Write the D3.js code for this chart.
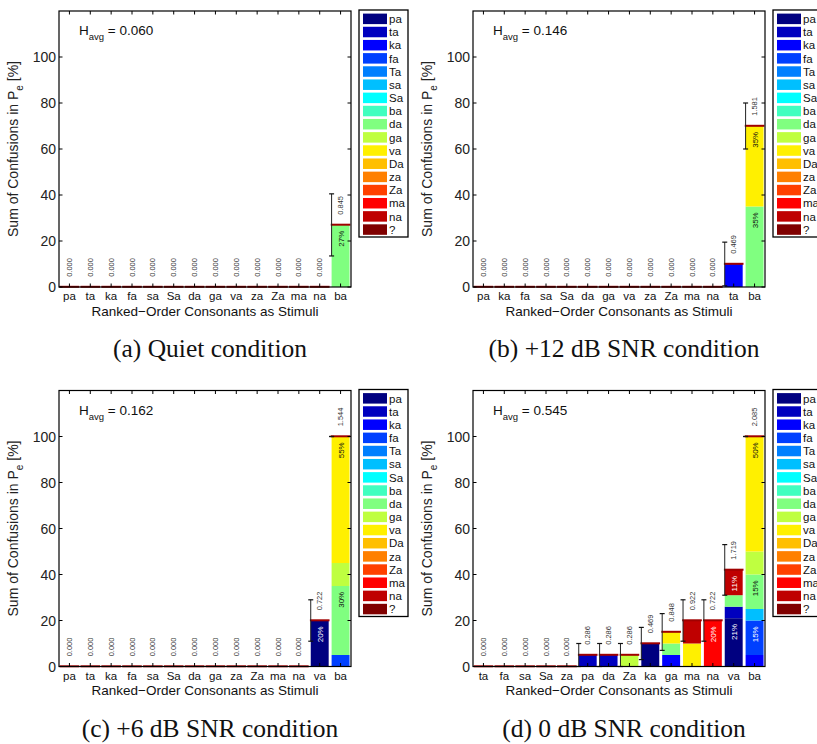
<!DOCTYPE html>
<html>
<head>
<meta charset="utf-8">
<script src="https://cdn.jsdelivr.net/npm/d3@7"></script>
<style>
  body { margin: 0; background: #fff; }
  svg { display: block; }
</style>
</head>
<body>
<svg id="fig" width="817" height="744"></svg>
<script>
// Response categories (legend order, bottom-to-top stacking order) and their jet colours
const responses = ["pa","ta","ka","fa","Ta","sa","Sa","ba","da","ga","va","Da","za","Za","ma","na","?"];
const responseColors = ["#000080","#0000BF","#0000FF","#0040FF","#0080FF","#00BFFF","#00FFFF","#40FFBF",
                        "#80FF80","#BFFF40","#FFF000","#FFBF00","#FF8000","#FF4000","#FF0000","#BF0000","#800000"];
const darkResponses = ["pa","ta","ka","fa","Za","ma","na","?"];

const yTickValues = [0, 20, 40, 60, 80, 100];
const captions = ["(a) Quiet condition", "(b) +12 dB SNR condition", "(c) +6 dB SNR condition", "(d) 0 dB SNR condition"];
const hAvg = [0.060, 0.146, 0.162, 0.545];

// Quiet
const stimuliQuiet = ["pa","ta","ka","fa","sa","Sa","da","ga","va","za","Za","ma","na","ba"];
const confusionsQuiet = [[],[],[],[],[],[],[],[],[],[],[],[],[],[["da",27]]];
const entropyQuiet = [0,0,0,0,0,0,0,0,0,0,0,0,0,0.845];
const spreadQuiet  = [0,0,0,0,0,0,0,0,0,0,0,0,0,13.5];

// +12 dB SNR
const stimuli12 = ["pa","ka","fa","sa","Sa","da","ga","va","za","Za","ma","na","ta","ba"];
const confusions12 = [[],[],[],[],[],[],[],[],[],[],[],[],[["ka",10]],[["da",35],["va",35]]];
const entropy12 = [0,0,0,0,0,0,0,0,0,0,0,0,0.469,1.581];
const spread12  = [0,0,0,0,0,0,0,0,0,0,0,0,9.5,10];

// +6 dB SNR
const stimuli6 = ["pa","ta","ka","fa","sa","Sa","da","ga","za","Za","ma","na","va","ba"];
const confusions6 = [[],[],[],[],[],[],[],[],[],[],[],[],[["pa",20]],[["fa",5],["da",30],["ga",10],["va",55]]];
const entropy6 = [0,0,0,0,0,0,0,0,0,0,0,0,0.722,1.544];
const spread6  = [0,0,0,0,0,0,0,0,0,0,0,0,9,0];

// 0 dB SNR
const stimuli0 = ["ta","fa","sa","Sa","za","pa","da","Za","ka","ga","ma","na","va","ba"];
const confusions0 = [[],[],[],[],[],
  [["ta",5]], [["ta",5]], [["ga",5]], [["pa",10]],
  [["ka",5],["da",5],["va",5]],
  [["va",10],["na",10]],
  [["ma",20]],
  [["pa",21],["ta",5],["da",5],["na",11]],
  [["ka",5],["fa",15],["sa",5],["da",15],["ga",10],["va",50]]];
const entropy0 = [0,0,0,0,0,0.286,0.286,0.286,0.469,0.848,0.922,0.722,1.719,2.085];
const spread0  = [0,0,0,0,0,5,5,5,7,8,9,9,11,0];

const colorOf = d3.scaleOrdinal().domain(responses).range(responseColors);

const svg = d3.select("#fig");
const plotW = 292, plotH = 276;
const sans = "Liberation Sans, Arial, Helvetica, sans-serif";

const panels = [
  { stimuli: stimuliQuiet, conf: confusionsQuiet, ent: entropyQuiet, spread: spreadQuiet, h: hAvg[0], caption: captions[0], left: 59,  top: 11 },
  { stimuli: stimuli12,    conf: confusions12,    ent: entropy12,    spread: spread12,    h: hAvg[1], caption: captions[1], left: 473, top: 11 },
  { stimuli: stimuli6,     conf: confusions6,     ent: entropy6,     spread: spread6,     h: hAvg[2], caption: captions[2], left: 59,  top: 390.5 },
  { stimuli: stimuli0,     conf: confusions0,     ent: entropy0,     spread: spread0,     h: hAvg[3], caption: captions[3], left: 473, top: 390.5 }
];

function drawPanel(p) {
  const g = svg.append("g").attr("transform", `translate(${p.left},${p.top})`);
  const x = d3.scaleBand().domain(p.stimuli).range([0, plotW]).paddingInner(0.14).paddingOuter(0.07);
  const y = d3.scaleLinear().domain([0, 120]).range([plotH, 0]);
  const step = x.step();

  // stacked segments per stimulus
  const bars = p.stimuli.map((s, i) => {
    const segs = p.conf[i].slice().sort((a, b) => responses.indexOf(a[0]) - responses.indexOf(b[0]));
    let cum = 0;
    const parts = segs.map(([r, v]) => { const o = { resp: r, y0: cum, y1: cum + v, v }; cum += v; return o; });
    return { stim: s, parts, total: cum, ent: p.ent[i], spread: p.spread[i] };
  });

  const barG = g.selectAll("g.bar").data(bars).join("g").attr("class", "bar");
  barG.selectAll("rect.seg").data(d => d.parts.map(pt => ({ ...pt, stim: d.stim }))).join("rect")
    .attr("class", "seg")
    .attr("x", d => x(d.stim))
    .attr("width", x.bandwidth())
    .attr("y", d => y(d.y1))
    .attr("height", d => y(d.y0) - y(d.y1))
    .attr("fill", d => colorOf(d.resp));

  // dark red cap on top of each stack
  barG.append("rect")
    .attr("x", d => x(d.stim) + x.bandwidth() / 2 - step * 0.47)
    .attr("width", step * 0.94)
    .attr("y", d => y(d.total) - 1.2)
    .attr("height", 2)
    .attr("fill", "#A00000");

  // percentage labels inside the larger segments
  barG.selectAll("text.pct").data(d => d.parts.filter(pt => pt.v > 10).map(pt => ({ ...pt, stim: d.stim }))).join("text")
    .attr("class", "pct")
    .attr("transform", d => `translate(${x(d.stim) + x.bandwidth() / 2 + 3},${y(d.y1 - 6)}) rotate(-90)`)
    .attr("text-anchor", "middle")
    .attr("font-family", sans).attr("font-size", 8)
    .attr("fill", d => darkResponses.includes(d.resp) ? "#fff" : "#111")
    .text(d => d.v + "%");

  // error bars at the left edge of each non-empty stack
  const eb = barG.filter(d => d.total > 0);
  eb.append("line")
    .attr("x1", d => x(d.stim)).attr("x2", d => x(d.stim))
    .attr("y1", d => y(Math.max(0, d.total - d.spread))).attr("y2", d => y(d.total + d.spread))
    .attr("stroke", "#222").attr("stroke-width", 1);
  [-1, 1].forEach(sign => {
    eb.append("line")
      .attr("x1", d => x(d.stim) - 2.5).attr("x2", d => x(d.stim) + 2.5)
      .attr("y1", d => y(Math.max(0, d.total + sign * d.spread))).attr("y2", d => y(Math.max(0, d.total + sign * d.spread)))
      .attr("stroke", "#111").attr("stroke-width", 1.2);
  });

  // entropy values above each stack
  barG.append("text")
    .attr("transform", d => `translate(${x(d.stim) + x.bandwidth() / 2 + 2.5},${y(d.total + 8.5)}) rotate(-90)`)
    .attr("text-anchor", "middle")
    .attr("font-family", sans).attr("font-size", 7.5)
    .attr("fill", "#333")
    .text(d => d.ent.toFixed(3));

  // frame and ticks
  g.append("rect").attr("width", plotW).attr("height", plotH)
    .attr("fill", "none").attr("stroke", "#000").attr("stroke-width", 1.2);
  const tl = 3.5;
  g.selectAll("line.xtb").data(p.stimuli).join("line")
    .attr("x1", d => x(d) + x.bandwidth() / 2).attr("x2", d => x(d) + x.bandwidth() / 2)
    .attr("y1", plotH).attr("y2", plotH - tl).attr("stroke", "#000");
  g.selectAll("line.xtt").data(p.stimuli).join("line")
    .attr("x1", d => x(d) + x.bandwidth() / 2).attr("x2", d => x(d) + x.bandwidth() / 2)
    .attr("y1", 0).attr("y2", tl).attr("stroke", "#000");
  g.selectAll("line.ytl").data(yTickValues).join("line")
    .attr("x1", 0).attr("x2", tl).attr("y1", d => y(d)).attr("y2", d => y(d)).attr("stroke", "#000");
  g.selectAll("line.ytr").data(yTickValues).join("line")
    .attr("x1", plotW).attr("x2", plotW - tl).attr("y1", d => y(d)).attr("y2", d => y(d)).attr("stroke", "#000");

  g.selectAll("text.ytick").data(yTickValues).join("text")
    .attr("x", -3).attr("y", d => y(d)).attr("dy", "0.36em")
    .attr("text-anchor", "end").attr("font-family", sans).attr("font-size", 14).attr("fill", "#222")
    .text(d => d);
  g.selectAll("text.xtick").data(p.stimuli).join("text")
    .attr("x", d => x(d) + x.bandwidth() / 2).attr("y", plotH + 13)
    .attr("text-anchor", "middle").attr("font-family", sans).attr("font-size", 11.5).attr("fill", "#111")
    .text(d => d);

  g.append("text").attr("x", plotW / 2).attr("y", plotH + 28.5)
    .attr("text-anchor", "middle").attr("font-family", sans).attr("font-size", 13.5).attr("fill", "#111")
    .text("Ranked\u2212Order Consonants as Stimuli");

  const yl = g.append("text")
    .attr("transform", `translate(${-41},${plotH / 2}) rotate(-90)`)
    .attr("text-anchor", "middle").attr("font-family", sans).attr("font-size", 14).attr("fill", "#222");
  yl.append("tspan").text("Sum of Confusions in P");
  yl.append("tspan").attr("font-size", 10).attr("dy", 5).text("e");
  yl.append("tspan").attr("dy", -5).text(" [%]");

  const ht = g.append("text").attr("x", 20).attr("y", 24)
    .attr("font-family", sans).attr("font-size", 13.5).attr("fill", "#111");
  ht.append("tspan").text("H");
  ht.append("tspan").attr("font-size", 9.5).attr("dy", 5).text("avg");
  ht.append("tspan").attr("dy", -5).text(" = " + p.h.toFixed(3));

  // legend
  const lg = g.append("g").attr("transform", `translate(${plotW + 8},${-1})`);
  lg.append("rect").attr("width", 49).attr("height", 227)
    .attr("fill", "#fff").attr("stroke", "#000").attr("stroke-width", 1.3);
  const li = lg.selectAll("g.item").data(responses).join("g")
    .attr("transform", (d, i) => `translate(4,${3.6 + i * 13.17})`);
  li.append("rect").attr("width", 24).attr("height", 10.5).attr("fill", d => colorOf(d));
  li.append("text").attr("x", 26).attr("y", 9.5)
    .attr("font-family", sans).attr("font-size", 11.5).attr("fill", "#111").text(d => d);

  // caption
  svg.append("text")
    .attr("x", p.left + plotW / 2 + 5).attr("y", p.top + plotH + 70)
    .attr("text-anchor", "middle")
    .attr("font-family", "Liberation Serif, 'Times New Roman', serif").attr("font-size", 25.5).attr("fill", "#111")
    .text(p.caption);
}

panels.forEach(drawPanel);
</script>
</body>
</html>
